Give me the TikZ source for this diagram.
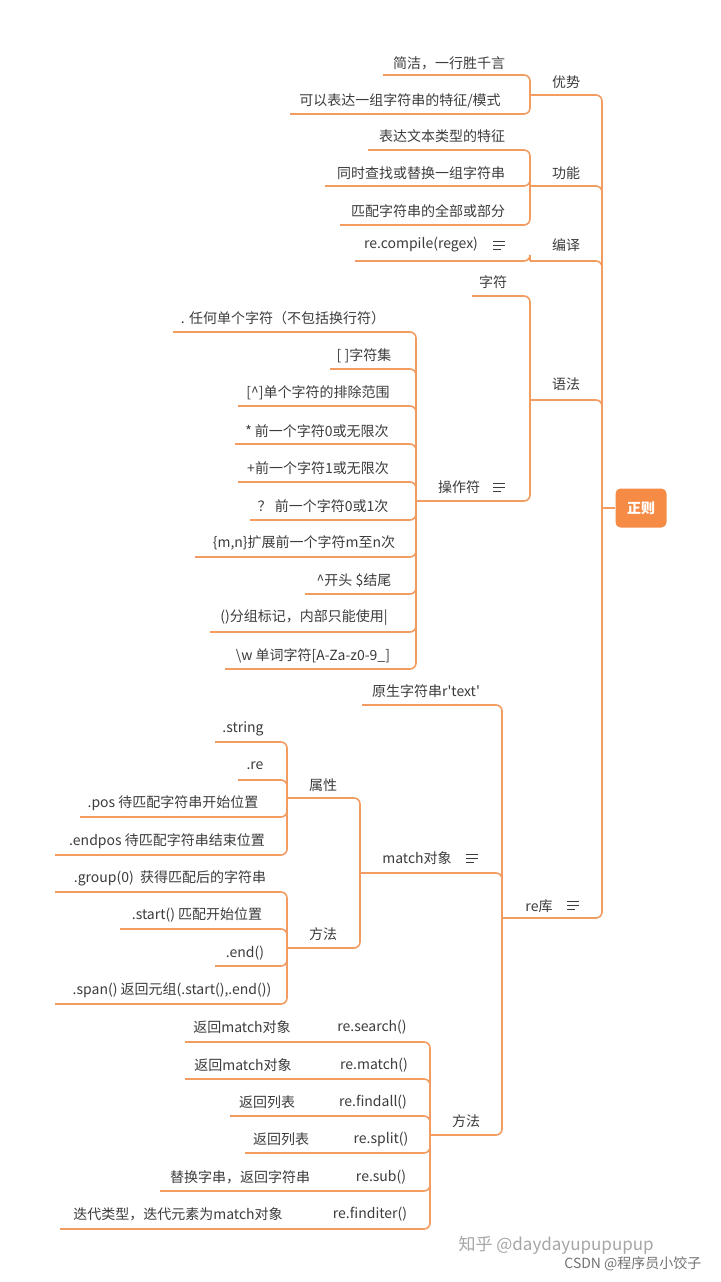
\documentclass[tikz,border=0pt]{standalone}
\usepackage{fontspec}
\setmainfont{Noto Sans CJK SC}
\usetikzlibrary{positioning}
\definecolor{mmorange}{RGB}{243,156,98}
\definecolor{mmroot}{RGB}{246,139,69}
\definecolor{mmtextcol}{RGB}{60,60,60}
\tikzset{
% mind map styles
mmtext/.style={text=mmtextcol, font=\fontsize{14}{16}\selectfont, inner sep=0},
mmline/.style={draw=mmorange, line width=1.6pt, rounded corners=6pt},
}
% name, text x, text y, underline y, left x, right x, text
\newcommand\mmnode[7]{%
  \node[mmtext] (#1) at (#2,#3) {#7};
  \coordinate (#1-l) at (#5,#4);
  \coordinate (#1-r) at (#6,#4);}
\newcommand\mmlink[2]{\draw[mmline] (#1-l) -- (#1-r) -- (#2-l);}
% note icon
\newcommand\mmnote[2]{%
  \draw[mmtextcol, line width=0.9pt] (#1-6,#2-4) -- (#1+6,#2-4) (#1-6,#2) -- (#1+6,#2) (#1-6,#2+4) -- (#1+2,#2+4);}
\begin{document}
\begin{tikzpicture}[x=1pt, y=-1pt]
  \useasboundingbox[fill=white] (0,0) rectangle (720,1282);

  % root
  \node[fill=mmroot, text=white, rounded corners=5pt, minimum width=51pt, minimum height=39pt,
    font=\fontsize{14}{16}\selectfont\bfseries] (root) at (641,508) {正则};
  \coordinate (root-l) at (602,508);
  \draw[mmline] (root-l) -- (root.west);

  % level 1
  \mmnode{adv}{566}{82}{95}{530}{602}{优势}
  \mmnode{func}{566}{173}{186}{530}{602}{功能}
  \mmnode{comp}{566}{245}{261}{530}{602}{编译}
  \mmnode{syn}{566}{384}{400}{530}{602}{语法}
  \mmnode{relib}{539}{906}{918}{502}{602}{re库}
  \mmnote{573}{905}
  \mmlink{adv}{root}
  \mmlink{func}{root}
  \mmlink{comp}{root}
  \mmlink{syn}{root}
  \mmlink{relib}{root}

  % 优势
  \mmnode{adv1}{449}{63}{75}{383}{530}{简洁，一行胜千言}
  \mmnode{adv2}{400}{101}{114}{290}{530}{可以表达一组字符串的特征/模式}
  \mmlink{adv1}{adv}
  \mmlink{adv2}{adv}

  % 功能
  \mmnode{func1}{442}{136}{150}{368}{530}{表达文本类型的特征}
  \mmnode{func2}{421}{173}{186}{325}{530}{同时查找或替换一组字符串}
  \mmnode{func3}{428}{211}{225}{340}{530}{匹配字符串的全部或部分}
  \mmlink{func1}{func}
  \mmlink{func2}{func}
  \mmlink{func3}{func}

  % 编译
  \mmnode{comp1}{421}{245}{261}{355}{530}{re.compile(regex)}
  \mmnote{499}{245}
  \mmlink{comp1}{comp}

  % 语法
  \mmnode{chr}{493}{282}{296}{472}{530}{字符}
  \mmnode{ops}{459}{487}{501}{416}{530}{操作符}
  \mmnote{499}{487}
  \mmlink{chr}{syn}
  \mmlink{ops}{syn}

  % 操作符
  \mmnode{op1}{283}{318}{332}{173}{416}{. 任何单个字符（不包括换行符）}
  \mmnode{op2}{364}{356}{369}{330}{416}{[ ]字符集}
  \mmnode{op3}{318}{393}{406}{238}{416}{[\textasciicircum]单个字符的排除范围}
  \mmnode{op4}{317}{431}{444}{235}{416}{* 前一个字符0或无限次}
  \mmnode{op5}{318}{468}{482}{238}{416}{+前一个字符1或无限次}
  \mmnode{op6}{323}{506}{520}{250}{416}{？ 前一个字符0或1次}
  \mmnode{op7}{304}{543}{557}{195}{416}{\{m,n\}扩展前一个字符m至n次}
  \mmnode{op8}{354}{580}{594}{305}{416}{\textasciicircum 开头 \$结尾}
  \mmnode{op9}{304}{618}{632}{210}{416}{()分组标记，内部只能使用|}
  \mmnode{op10}{313}{656}{669}{225}{416}{\textbackslash w 单词字符[A-Za-z0-9\_]}
  \mmlink{op1}{ops}
  \mmlink{op2}{ops}
  \mmlink{op3}{ops}
  \mmlink{op4}{ops}
  \mmlink{op5}{ops}
  \mmlink{op6}{ops}
  \mmlink{op7}{ops}
  \mmlink{op8}{ops}
  \mmlink{op9}{ops}
  \mmlink{op10}{ops}

  % re库
  \mmnode{raw}{426}{691}{705}{362}{502}{原生字符串r\textquotesingle text\textquotesingle}
  \mmnode{mobj}{417}{858}{873}{360}{502}{match对象}
  \mmnote{472}{858}
  \mmnode{meth}{466}{1121}{1135}{430}{502}{方法}
  \mmlink{raw}{relib}
  \mmlink{mobj}{relib}
  \mmlink{meth}{relib}

  % match对象
  \mmnode{attr}{323}{785}{798}{287}{360}{属性}
  \mmnode{mmeth}{323}{934}{948}{287}{360}{方法}
  \mmlink{attr}{mobj}
  \mmlink{mmeth}{mobj}

  \mmnode{at1}{243}{729}{742}{215}{287}{.string}
  \mmnode{at2}{255}{766}{780}{238}{287}{.re}
  \mmnode{at3}{173}{803}{817}{80}{287}{.pos 待匹配字符串开始位置}
  \mmnode{at4}{167}{841}{855}{55}{287}{.endpos 待匹配字符串结束位置}
  \mmlink{at1}{attr}
  \mmlink{at2}{attr}
  \mmlink{at3}{attr}
  \mmlink{at4}{attr}

  \mmnode{mm1}{170}{878}{892}{55}{287}{.group(0) \ 获得匹配后的字符串}
  \mmnode{mm2}{197}{915}{929}{120}{287}{.start() 匹配开始位置}
  \mmnode{mm3}{245}{953}{966}{215}{287}{.end()}
  \mmnode{mm4}{172}{990}{1004}{55}{287}{.span() 返回元组(.start(),.end())}
  \mmlink{mm1}{mmeth}
  \mmlink{mm2}{mmeth}
  \mmlink{mm3}{mmeth}
  \mmlink{mm4}{mmeth}

  % re库 方法
  \mmnode{f1}{242}{1027}{1042}{185}{430}{返回match对象}
  \node[mmtext] (f1b) at (372,1027) {re.search()};
  \mmnode{f2}{243}{1065}{1079}{185}{430}{返回match对象}
  \node[mmtext] (f2b) at (374,1065) {re.match()};
  \mmnode{f3}{267}{1102}{1116}{230}{430}{返回列表}
  \node[mmtext] (f3b) at (373,1102) {re.findall()};
  \mmnode{f4}{281}{1139}{1153}{245}{430}{返回列表}
  \node[mmtext] (f4b) at (381,1139) {re.split()};
  \mmnode{f5}{240}{1177}{1191}{160}{430}{替换字串，返回字符串}
  \node[mmtext] (f5b) at (381,1177) {re.sub()};
  \mmnode{f6}{178}{1214}{1229}{60}{430}{迭代类型，迭代元素为match对象}
  \node[mmtext] (f6b) at (370,1214) {re.finditer()};
  \mmlink{f1}{meth}
  \mmlink{f2}{meth}
  \mmlink{f3}{meth}
  \mmlink{f4}{meth}
  \mmlink{f5}{meth}
  \mmlink{f6}{meth}

  % watermarks
  \node[text=black!35, font=\fontsize{17}{19}\selectfont, anchor=west] (zh) at (455,1245) {知乎 @daydayupupupup};
  \node[text=black!55, font=\fontsize{14}{16}\selectfont, anchor=east] (csdn) at (705,1264) {CSDN @程序员小饺子};
\end{tikzpicture}
\end{document}
